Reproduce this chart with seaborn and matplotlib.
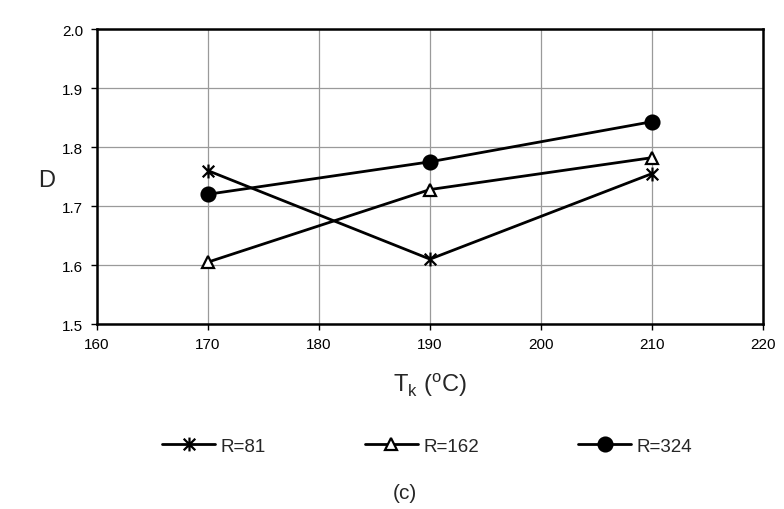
import matplotlib
matplotlib.use("Agg")
import matplotlib.pyplot as plt
from matplotlib.path import Path
import numpy as np
import pandas as pd
import seaborn as sns

# Data
temps = [170, 190, 210]
d_r81 = [1.76, 1.61, 1.755]
d_r162 = [1.605, 1.728, 1.782]
d_r324 = [1.72, 1.775, 1.843]
series_labels = ["R=81", "R=162", "R=324"]

df = pd.DataFrame({
    "T": temps * 3,
    "D": d_r81 + d_r162 + d_r324,
    "R": [series_labels[0]] * 3 + [series_labels[1]] * 3 + [series_labels[2]] * 3,
})

sns.set_theme(style="white")
plt.rcParams["font.family"] = ["Liberation Sans", "DejaVu Sans"]

# asterisk-like marker: an X crossed by a vertical bar
star = Path(
    [(-1, -1), (1, 1), (-1, 1), (1, -1), (0, -1.2), (0, 1.2)],
    [Path.MOVETO, Path.LINETO, Path.MOVETO, Path.LINETO, Path.MOVETO, Path.LINETO],
)

fig = plt.figure(figsize=(7.84, 5.10), dpi=100)
ax = fig.add_axes([0.1237, 0.3627, 0.8495, 0.5783])

markers = {series_labels[0]: star, series_labels[1]: "^", series_labels[2]: "o"}
palette = {lab: "black" for lab in series_labels}
msize = {"R=81": 10, "R=162": 9, "R=324": 10}

sns.lineplot(data=df, x="T", y="D", hue="R", style="R", markers=markers,
             dashes=False, palette=palette, linewidth=2.0, markersize=9,
             legend=False, ax=ax)

# style each line's markers
for line, lab in zip(ax.get_lines(), series_labels):
    line.set_markeredgecolor("black")
    line.set_markeredgewidth(1.6)
    line.set_markersize(msize[lab])
    line.set_markerfacecolor("white" if lab == "R=162" else "black")

ax.set_xlim(160, 220)
ax.set_ylim(1.5, 2.0)
ax.set_xticks(np.arange(160, 221, 10))
ax.set_yticks(np.arange(1.5, 2.01, 0.1))
ax.set_yticklabels([f"{v:.1f}" for v in np.arange(1.5, 2.01, 0.1)])
ax.grid(True, color="#9a9a9a", linewidth=0.9)
ax.set_axisbelow(True)
for s in ax.spines.values():
    s.set_color("black")
    s.set_linewidth(1.8)
ax.tick_params(axis="both", which="both", direction="out", length=4,
               width=1, colors="black", labelsize=11, left=True, bottom=True, pad=6)
ax.tick_params(axis="x", pad=5)

ax.set_xlabel("T$_\\mathregular{k}$ ($^\\mathregular{o}$C)", fontsize=17, labelpad=14)
ax.set_ylabel("D", fontsize=17, rotation=0, va="center")
ax.yaxis.set_label_coords(-0.075, 0.49)

# legend below the chart
handles = []
for lab in series_labels:
    h, = ax.plot([], [], color="black", linewidth=2.0, marker=markers[lab],
                 markersize=msize[lab], markeredgecolor="black", markeredgewidth=1.6,
                 markerfacecolor="white" if lab == "R=162" else "black")
    handles.append(h)
fig.legend(handles, series_labels, loc="center", bbox_to_anchor=(0.545, 0.123),
           ncol=3, frameon=False, fontsize=13.5, handlelength=2.8, handletextpad=0.3,
           columnspacing=5.3)

fig.text(0.517, 0.033, "(c)", ha="center", va="center", fontsize=15)

fig.savefig("out.png", dpi=100, facecolor="white")
